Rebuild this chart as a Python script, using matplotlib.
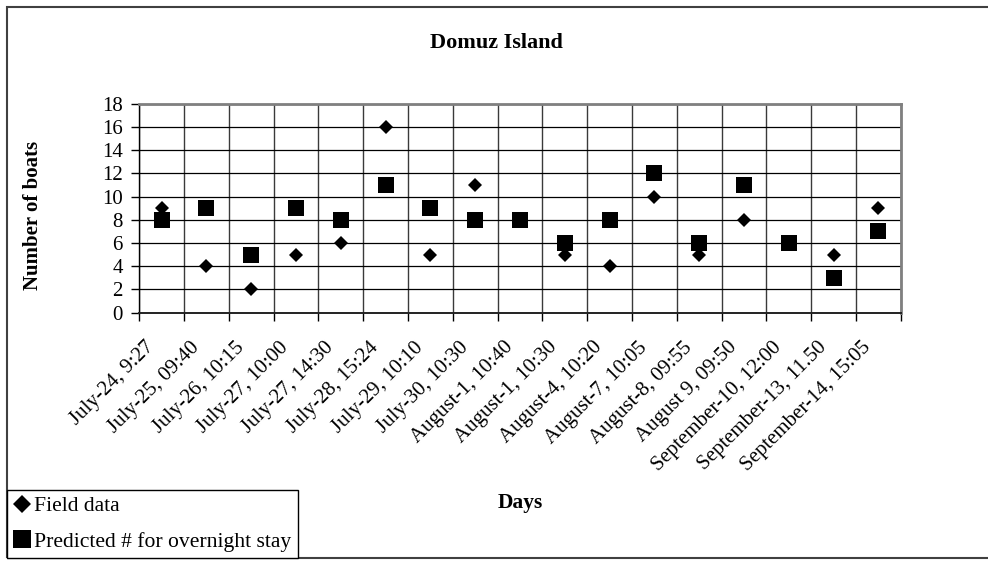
import matplotlib
matplotlib.use("Agg")
import matplotlib.pyplot as plt
from matplotlib.patches import Rectangle
from matplotlib.lines import Line2D
from matplotlib.transforms import ScaledTranslation
import numpy as np

plt.rcParams['font.family'] = ['Liberation Serif', 'DejaVu Serif']

days = [
    "July-24, 9:27", "July-25, 09:40", "July-26, 10:15", "July-27, 10:00",
    "July-27, 14:30", "July-28, 15:24", "July-29, 10:10", "July-30, 10:30",
    "August-1, 10:40", "August-1, 10:30", "August-4, 10:20", "August-7, 10:05",
    "August-8, 09:55", "August 9, 09:50", "September-10, 12:00",
    "September-13, 11.50", "September-14, 15:05",
]
field_data = [9, 4, 2, 5, 6, 16, 5, 11, 8, 5, 4, 10, 5, 8, 6, 5, 9]
predicted = [8, 9, 5, 9, 8, 11, 9, 8, 8, 6, 8, 12, 6, 11, 6, 3, 7]
y_ticks = [0, 2, 4, 6, 8, 10, 12, 14, 16, 18]

W, H = 988, 561
fig = plt.figure(figsize=(W / 100, H / 100), dpi=100)

# plot area in pixel coordinates
left, right, top, bottom = 139.3, 900.7, 103.6, 312.7
ax = fig.add_axes([left / W, 1 - bottom / H, (right - left) / W, (bottom - top) / H])

n = len(days)
centers = np.arange(n) + 0.5

ax.plot(centers, predicted, linestyle='none', marker='s', markersize=11.3,
        color='black', markeredgewidth=0, zorder=3)
ax.plot(centers, field_data, linestyle='none', marker='D', markersize=7.6,
        color='black', markeredgewidth=0, zorder=4)

ax.set_xlim(0, n)
ax.set_ylim(0, 18)
ax.set_yticks(y_ticks)
ax.set_yticklabels([str(v) for v in y_ticks], fontsize=15)

# labels sit at category centres, tick marks and gridlines at category boundaries
ax.set_xticks(centers)
ax.set_xticklabels(days, fontsize=15, rotation=45, ha='right', va='center',
                   rotation_mode='anchor')
ax.set_xticks(np.arange(n + 1), minor=True)
ax.tick_params(axis='x', which='major', length=0, pad=23)
ax.tick_params(axis='x', which='minor', length=6, width=1, color='black', direction='out')
ax.tick_params(axis='y', which='major', length=6, width=1, color='black', direction='out', pad=6)

shift = ScaledTranslation(-10 / 100, 0, fig.dpi_scale_trans)
for lab in ax.get_xticklabels():
    lab.set_transform(lab.get_transform() + shift)

ax.grid(True, axis='y', which='major', color='black', linewidth=0.9)
ax.grid(True, axis='x', which='minor', color='#3a3a3a', linewidth=1.0)
ax.set_axisbelow(True)

for side in ('top', 'right'):
    ax.spines[side].set_color('#808080')
    ax.spines[side].set_linewidth(2)
ax.spines['left'].set_color('black')
ax.spines['left'].set_linewidth(1)
ax.spines['bottom'].set_color('#222222')
ax.spines['bottom'].set_linewidth(1.4)

ax.set_ylabel("Number of boats", fontsize=15, fontweight='bold')
ax.yaxis.set_label_coords((43 - left) / (right - left), (bottom - 215) / (bottom - top))

fig.text(496 / W, 1 - 43.5 / H, "Domuz Island", fontsize=16, fontweight='bold',
         ha='center', va='center')
fig.text(520 / W, 1 - 503 / H, "Days", fontsize=15.5, fontweight='bold',
         ha='center', va='center')

# outer chart frame
fig.add_artist(Rectangle((7 / W, 1 - 558 / H), (W + 10) / W, (558 - 7) / H,
                         transform=fig.transFigure, fill=False,
                         edgecolor='#404040', linewidth=1.5, clip_on=False))

handles = [
    Line2D([], [], linestyle='none', marker='D', markersize=9.0, color='black', markeredgewidth=0),
    Line2D([], [], linestyle='none', marker='s', markersize=12.3, color='black', markeredgewidth=0),
]
leg = fig.legend(handles, ["Field data", "Predicted # for overnight stay"],
                 loc='lower left', bbox_to_anchor=(7 / W, 1 - 558 / H),
                 bbox_transform=fig.transFigure, borderaxespad=0,
                 fontsize=15.6, frameon=True, fancybox=False, shadow=False,
                 handlelength=0.8, handletextpad=0.15, labelspacing=0.7,
                 borderpad=0.3)
leg.get_frame().set_edgecolor('black')
leg.get_frame().set_linewidth(1.0)
leg.get_frame().set_alpha(1)

fig.savefig("out.png", dpi=100)
